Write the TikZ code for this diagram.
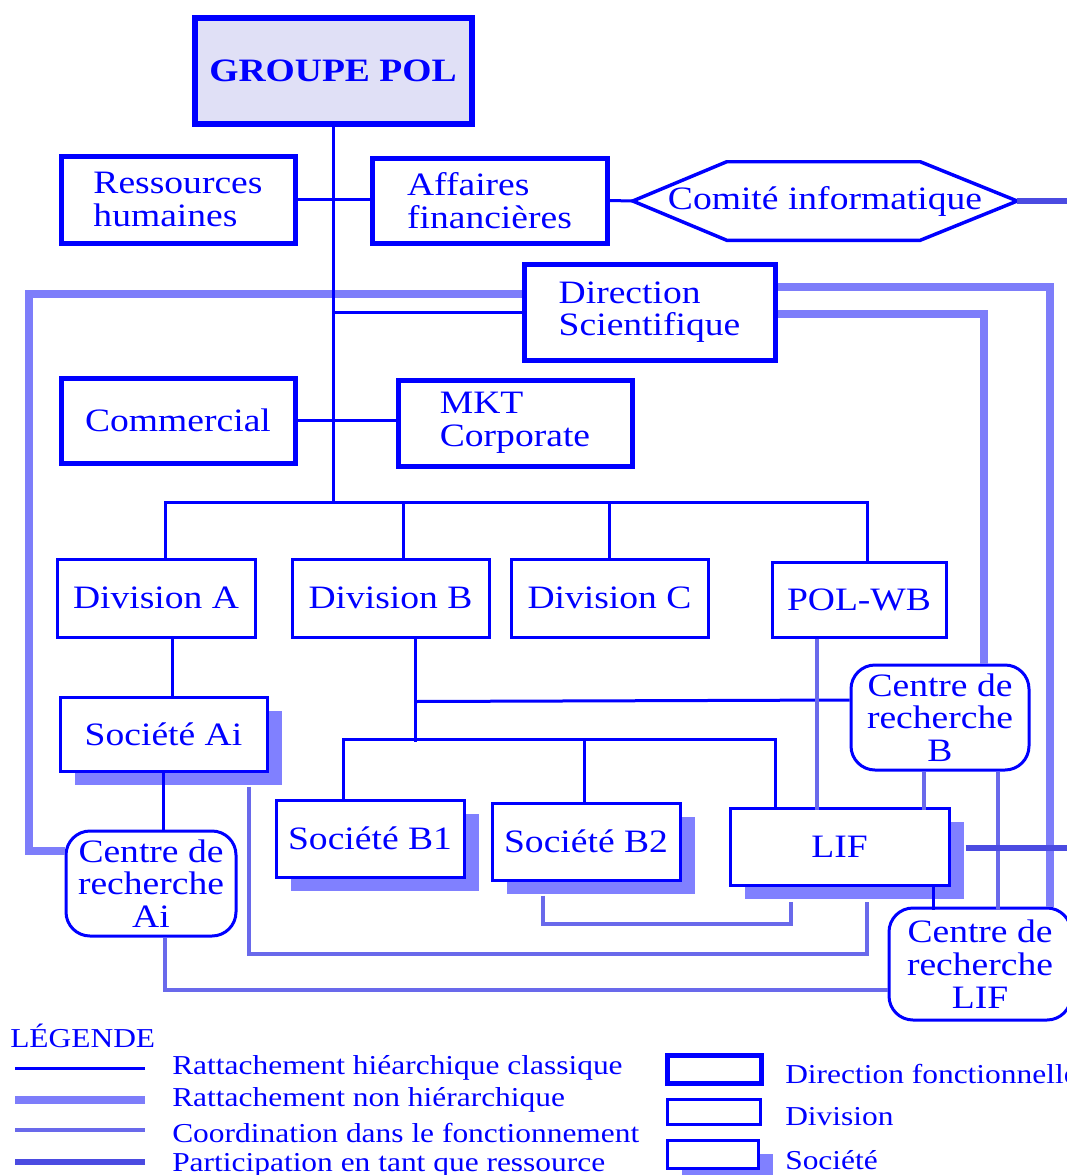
\documentclass[tikz,border=0pt]{standalone}
\usepackage{fontspec}
\setmainfont{Liberation Serif}[FakeStretch=1.15]
\usetikzlibrary{shadows}
\definecolor{polblue}{RGB}{0,0,255}
\definecolor{shadowblue}{RGB}{128,128,255}
\definecolor{nonhierblue}{RGB}{125,125,250}
\definecolor{coordblue}{RGB}{105,105,235}
\definecolor{particblue}{RGB}{75,75,225}
\definecolor{groupefill}{RGB}{224,224,246}
\def\pix{0.75pt}

\begin{document}
\begin{tikzpicture}[x=0.75pt, y=-0.75pt, text=polblue,
  box/.style={draw=polblue, fill=white, inner sep=0pt, align=center,
    font=\fontsize{24.5}{24.5}\selectfont},
  dirbox/.style={box, line width=3.75pt},
  divbox/.style={box, line width=2.25pt},
  socbox/.style={divbox, drop shadow={shadow xshift=11.5pt, shadow yshift=-10.5pt,
    fill=shadowblue, opacity=1}},
  crbox/.style={divbox, rounded corners=18pt},
  hier/.style={draw=polblue, line width=2.25pt},
  nonhier/.style={draw=nonhierblue, line width=6pt},
  coordin/.style={draw=coordblue, line width=3pt},
  partic/.style={draw=particblue, line width=4.5pt},
  legtext/.style={inner sep=0pt, anchor=west, font=\fontsize{20.5}{24}\selectfont}]
\useasboundingbox (0,0) rectangle (1067,1175);

\node[dirbox, fill=groupefill, line width=4.5pt, minimum width=277*\pix, minimum height=106*\pix,
  font=\bfseries\fontsize{24.5}{24.5}\selectfont] (groupe) at (333,71) {GROUPE POL};
\node[dirbox, minimum width=234*\pix, minimum height=87*\pix, align=left] (rh) at (178,199.5) {Ressources\\humaines};
\node[dirbox, minimum width=235*\pix, minimum height=85*\pix, align=left] (af) at (489.5,200.5) {Affaires\\financières};
\node[box, draw=none, fill=none, minimum width=384*\pix, minimum height=78*\pix] (comite) at (825,201) {Comité informatique};
\draw[polblue, line width=2.6pt, line join=miter]
  (comite.west) -- ([shift={(94,0)}]comite.north west) -- ([shift={(-97,0)}]comite.north east)
  -- (comite.east) -- ([shift={(-97,0)}]comite.south east) -- ([shift={(94,0)}]comite.south west) -- cycle;
\node[dirbox, minimum width=251*\pix, minimum height=96*\pix, align=left] (ds) at (649.5,312) {Direction\\Scientifique};
\node[dirbox, minimum width=234*\pix, minimum height=85*\pix] (comm) at (178,420.5) {Commercial};
\node[dirbox, minimum width=234*\pix, minimum height=86*\pix, align=left] (mkt) at (515,423) {MKT\\Corporate};

\node[divbox, minimum width=198*\pix, minimum height=78*\pix] (diva) at (156,598) {Division A};
\node[divbox, minimum width=197*\pix, minimum height=78*\pix] (divb) at (390.5,598) {Division B};
\node[divbox, minimum width=197*\pix, minimum height=78*\pix] (divc) at (609.5,598) {Division C};
\node[divbox, minimum width=174*\pix, minimum height=75*\pix] (polwb) at (859,599.5) {POL-WB};

\node[socbox, minimum width=207*\pix, minimum height=74*\pix] (socai) at (163.5,734) {Société Ai};
\node[crbox, minimum width=170*\pix, minimum height=105*\pix] (crai) at (151,883.5) {Centre de\\recherche\\Ai};
\node[crbox, minimum width=178*\pix, minimum height=105*\pix] (crb) at (940,717.5) {Centre de\\recherche\\B};
\node[socbox, minimum width=188*\pix, minimum height=77*\pix] (socb1) at (370,838.5) {Société B1};
\node[socbox, minimum width=188*\pix, minimum height=77*\pix] (socb2) at (586,841.5) {Société B2};
\node[socbox, minimum width=219*\pix, minimum height=77*\pix] (lif) at (839.5,846.5) {LIF};
\node[crbox, minimum width=182*\pix, minimum height=112*\pix] (crlif) at (980,964) {Centre de\\recherche\\LIF};

\coordinate (bus) at (333,504);
\coordinate (bordA) at (1067,201);
\coordinate (bordB) at (1067,848);

\draw[nonhier] ([shift={(0,-18)}]ds.west) -- ++(-493,0) |- ([shift={(0,-32.5)}]crai.west);
\draw[nonhier] ([shift={(0,-25)}]ds.east) -| ([shift={(70,0)}]crlif.north);
\draw[nonhier] ([shift={(0,2)}]ds.east) -| ([shift={(44,0)}]crb.north);

\draw[hier] (groupe.south) -- (bus);
\draw[hier] (rh.east) -- (rh.east -| af.west);
\draw[hier] (af.east) -- (comite.west);
\draw[hier] (ds.west) -- (ds.west -| groupe.south);
\draw[hier] (comm.east) -- (comm.east -| mkt.west);
\draw[hier] ([shift={(9,0)}]diva.north) -- ++(0,-55) -| ([shift={(8,0)}]polwb.north);
\draw[hier] ([shift={(12.5,0)}]divb.north) -- ++(0,-55);
\draw[hier] (divc.north) -- ++(0,-55);
\draw[hier] ([shift={(16,0)}]diva.south) -- ++(0,60);
\draw[hier] (socai.south) -- (socai.south |- crai.north);
\draw[hier] ([shift={(24.5,0)}]divb.south) -- ++(0,103);
\draw[hier] ([shift={(24.5,0)}]divb.south) ++(0,63) -- ([shift={(0,-17.5)}]crb.west);
\draw[hier] ([shift={(-27,0)}]socb1.north) -- ++(0,-59) -| ([shift={(-64.5,0)}]lif.north);
\draw[hier] ([shift={(-2,0)}]socb2.north) -- ++(0,-62);
\draw[hier] ([shift={(93.5,0)}]lif.south) -- ++(0,23);

\draw[coordin] ([shift={(-42,0)}]polwb.south) -- ++(0,171);
\draw[coordin] ([shift={(-16,0)}]crb.south) -- ++(0,38);
\draw[coordin] ([shift={(58,0)}]crb.south) -- ++(0,138);
\draw[coordin] ([shift={(-43,14)}]socb2.south) -- ++(0,28) -| ([shift={(-48.5,15)}]lif.south);
\draw[coordin] ([shift={(85.5,14)}]socai.south) -- ++(0,167) -| ([shift={(27.5,15)}]lif.south);
\draw[coordin] ([shift={(14,0)}]crai.south) |- ([shift={(0,26)}]crlif.west);

\draw[partic] (comite.east) -- (bordA);
\draw[partic] ([shift={(15,1.5)}]lif.east) -- (bordB);

\node[legtext] (legende) at (10,1036) {LÉGENDE};
\node[legtext] (leg1) at (172,1068) {Rattachement hiéarchique classique};
\node[legtext] (leg2) at (172,1100) {Rattachement non hiérarchique};
\node[legtext] (leg3) at (172,1133) {Coordination dans le fonctionnement};
\node[legtext] (leg4) at (172,1165) {Participation en tant que ressource};
\draw[hier] ([shift={(-157,0)}]leg1.west) -- ++(130,0);
\draw[nonhier] ([shift={(-157,0)}]leg2.west) -- ++(130,0);
\draw[coordin] ([shift={(-157,-3)}]leg3.west) -- ++(130,0);
\draw[partic] ([shift={(-157,-3)}]leg4.west) -- ++(130,0);

\node[dirbox, minimum width=94*\pix, minimum height=28*\pix] (legdir) at (714,1069) {};
\node[divbox, minimum width=93*\pix, minimum height=25*\pix] (legdiv) at (713.5,1111.5) {};
\node[socbox, minimum width=91*\pix, minimum height=28*\pix] (legsoc) at (712.5,1154) {};
\node[legtext] (legdirt) at (785,1074) {Direction fonctionnelle};
\node[legtext] (legdivt) at (785,1117) {Division};
\node[legtext] (legsoct) at (785,1160) {Société};
\end{tikzpicture}
\end{document}
